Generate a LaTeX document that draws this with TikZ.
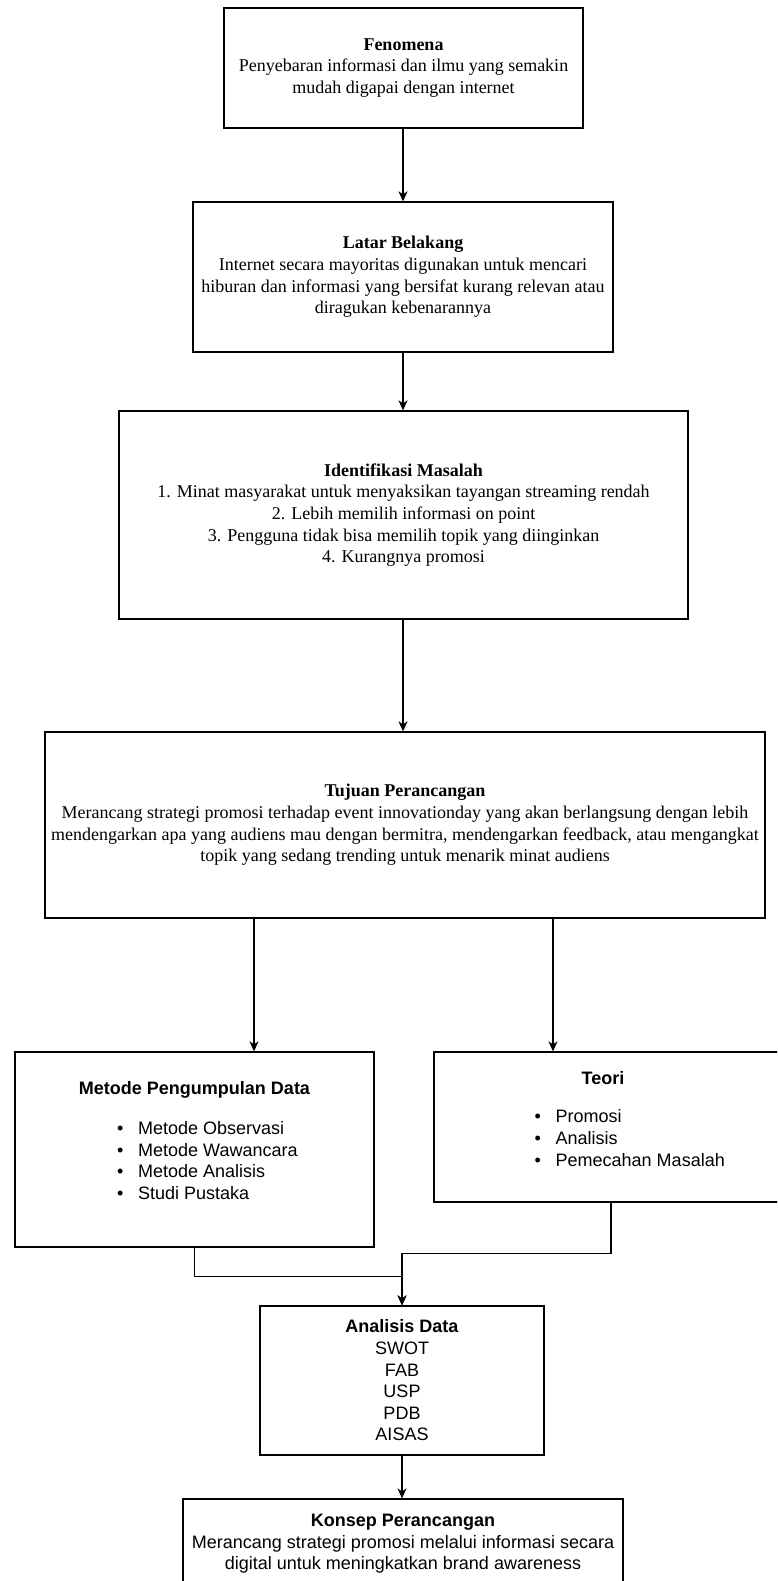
\documentclass[tikz,border=0pt]{standalone}
\usepackage{fontspec}
\setmainfont{Liberation Serif}
\newfontfamily\arialfont{Liberation Sans}
\usetikzlibrary{arrows.meta}
\newcommand\serifbody{\fontsize{18}{21.6}\selectfont}
\newcommand\sansbody{\arialfont\fontsize{18}{21.6}\selectfont}
\newcommand\mybul{\makebox[21pt][l]{\textbullet}}
\begin{document}
\begin{tikzpicture}[x=1pt,y=-1pt,
  box/.style={draw=black, line width=1.3pt, inner sep=0pt, align=center, font=\serifbody},
  sbox/.style={box, font=\sansbody},
  lbl/.style={inner sep=0pt, align=center, font=\sansbody\bfseries},
  lst/.style={inner sep=0pt, align=left, anchor=west, font=\sansbody},
  conn/.style={draw=black, line width=1.3pt},
  arr/.style={conn, -{Stealth[length=10pt,width=9pt,inset=3pt]}}]
\fill[white] (0,0) rectangle (777,1581);
\useasboundingbox (0,0) rectangle (777,1581);
\clip (0,0) rectangle (777,1581);

\node[box, minimum width=359pt, minimum height=120pt] (fen) at (403.5,68)
  {\textbf{Fenomena}\\Penyebaran informasi dan ilmu yang semakin\\mudah digapai dengan internet};
\node[box, minimum width=420pt, minimum height=150pt] (lat) at (403,277)
  {\textbf{Latar Belakang}\\Internet secara mayoritas digunakan untuk mencari\\hiburan dan informasi yang bersifat kurang relevan atau\\diragukan kebenarannya};
\node[box, minimum width=569pt, minimum height=208pt] (ide) at (403.5,515)
  {\textbf{Identifikasi Masalah}\\1. Minat masyarakat untuk menyaksikan tayangan streaming rendah\\2. Lebih memilih informasi on point\\3. Pengguna tidak bisa memilih topik yang diinginkan\\4. Kurangnya promosi};
\node[box, minimum width=720pt, minimum height=186pt] (tuj) at (405,825)
  {\textbf{Tujuan Perancangan}\\Merancang strategi promosi terhadap event innovationday yang akan berlangsung dengan lebih\\mendengarkan apa yang audiens mau dengan bermitra, mendengarkan feedback, atau mengangkat\\topik yang sedang trending untuk menarik minat audiens};

\node[sbox, minimum width=359pt, minimum height=195pt] (met) at (194.5,1149.5) {};
\node[lbl] (mett) at (194.5,1090) {Metode Pengumpulan Data};
\node[lst] (metl) at (117,1160.5) {\mybul Metode Observasi\\\mybul Metode Wawancara\\\mybul Metode Analisis\\\mybul Studi Pustaka};

\node[sbox, minimum width=346pt, minimum height=150pt] (teo) at (607,1127) {};
\node[lbl] (teot) at (603,1078) {Teori};
\node[lst] (teol) at (534.5,1138) {\mybul Promosi\\\mybul Analisis\\\mybul Pemecahan Masalah};

\node[sbox, minimum width=284pt, minimum height=149pt] (ana) at (402,1380.5)
  {\textbf{Analisis Data}\\SWOT\\FAB\\USP\\PDB\\AISAS};
\node[sbox, minimum width=440pt, minimum height=90pt] (kon) at (403,1544)
  {\textbf{Konsep Perancangan}\\Merancang strategi promosi melalui informasi secara\\digital untuk meningkatkan brand awareness};

\coordinate (c1) at (254,0);
\coordinate (c2) at (553,0);

\draw[arr] (fen.south -| 403,0) -- (lat.north -| 403,0);
\draw[arr] (lat.south -| 403,0) -- (ide.north -| 403,0);
\draw[arr] (ide.south -| 403,0) -- (tuj.north -| 403,0);
\draw[arr] (c1 |- tuj.south) -- (c1 |- met.north);
\draw[arr] (c2 |- tuj.south) -- (c2 |- teo.north);
\draw[arr] (met.south) -- ++(0,29) -| (ana.north);
\draw[arr] ([xshift=4pt]teo.south) -- ++(0,51) -| (ana.north);
\draw[arr] (ana.south) -- (ana.south |- kon.north);
\end{tikzpicture}
\end{document}
